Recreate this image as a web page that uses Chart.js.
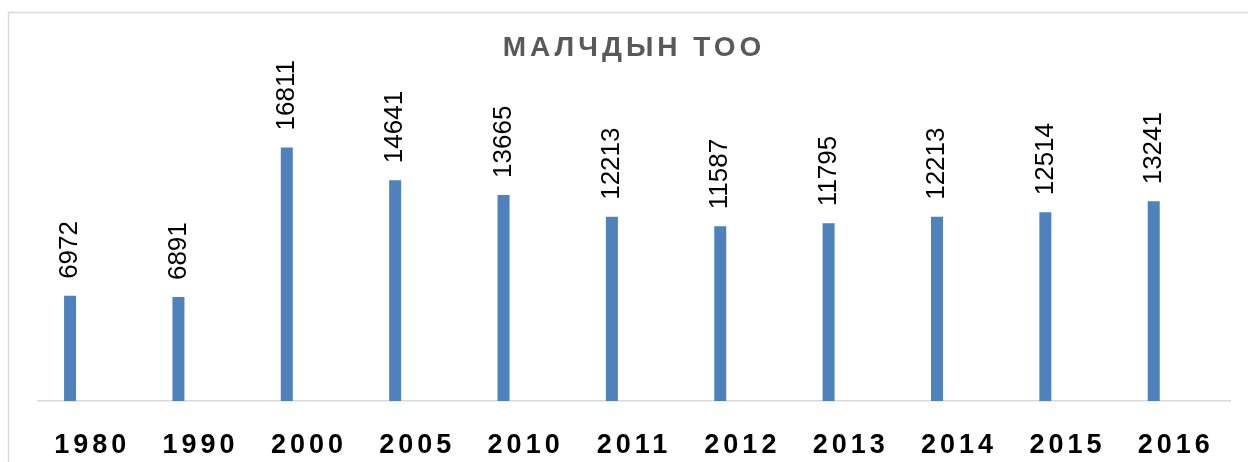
<!DOCTYPE html>
<html>
<head>
<meta charset="utf-8">
<style>
  html, body { margin: 0; padding: 0; background: #fff; }
  #wrap { position: relative; width: 1248px; height: 462px; }
</style>
<script src="https://cdn.jsdelivr.net/npm/chart.js@4"></script>
</head>
<body>
<div id="wrap"><canvas id="barChart"></canvas></div>
<script>
const years = ['1980', '1990', '2000', '2005', '2010', '2011', '2012', '2013', '2014', '2015', '2016'];
const herders = [6972, 6891, 16811, 14641, 13665, 12213, 11587, 11795, 12213, 12514, 13241];
// the source chart keeps a blank second series, which pushes the bars left of each tick
const blankSeries = [];
const chartTitle = 'МАЛЧДЫН ТОО';

document.addEventListener('DOMContentLoaded', function () {
    const ctx = document.getElementById('barChart').getContext('2d');

    // frame, letter spacing for title and axis labels
    const framePlugin = {
        id: 'frame',
        beforeDraw(chart) {
            const c = chart.ctx;
            c.save();
            c.strokeStyle = '#d9d9d9';
            c.lineWidth = 1.5;
            c.strokeRect(8.5, 12.5, 1400, 600);
            c.restore();
            c.letterSpacing = '4px';
        },
        afterDraw(chart) {
            chart.ctx.letterSpacing = '0px';
        }
    };

    const valueLabels = {
        id: 'valueLabels',
        afterDatasetsDraw(chart) {
            const c = chart.ctx;
            const meta = chart.getDatasetMeta(0);
            c.save();
            c.letterSpacing = '0px';
            c.font = '26px "Liberation Sans", Arial, sans-serif';
            c.fillStyle = '#000';
            c.textAlign = 'left';
            c.textBaseline = 'middle';
            meta.data.forEach(function (bar, i) {
                c.save();
                c.translate(bar.x, bar.y - 17);
                c.rotate(-Math.PI / 2);
                c.fillText(String(herders[i]), 0, 0);
                c.restore();
            });
            c.restore();
        }
    };

    new Chart(ctx, {
        type: 'bar',
        data: {
            labels: years,
            datasets: [
                {
                    label: 'Малчид',
                    data: herders,
                    backgroundColor: '#4f81bd',
                    categoryPercentage: 0.816,
                    barPercentage: 0.2715
                },
                {
                    label: '',
                    data: blankSeries,
                    backgroundColor: '#c0504d',
                    categoryPercentage: 0.816,
                    barPercentage: 0.2715
                }
            ]
        },
        options: {
            responsive: true,
            maintainAspectRatio: false,
            animation: false,
            events: [],
            layout: {
                padding: { left: 38, right: 18, top: 0, bottom: 0 }
            },
            plugins: {
                legend: { display: false },
                tooltip: { enabled: false },
                title: {
                    display: true,
                    text: chartTitle,
                    color: '#595959',
                    font: { family: '"Liberation Sans", Arial, sans-serif', size: 28, weight: 'bold', lineHeight: 1.2 },
                    padding: { top: 31.7, bottom: 34.1 }
                }
            },
            scales: {
                x: {
                    grid: { display: false },
                    border: { display: true, color: '#d9d9d9', width: 1.5 },
                    ticks: {
                        color: '#000',
                        padding: 20,
                        font: { family: '"Liberation Sans", Arial, sans-serif', size: 27, weight: 'bold' }
                    },
                    afterFit: function (scale) { scale.height = 61; }
                },
                y: {
                    display: false,
                    min: 0,
                    max: 20000
                }
            }
        },
        plugins: [framePlugin, valueLabels]
    });
});
</script>
</body>
</html>
